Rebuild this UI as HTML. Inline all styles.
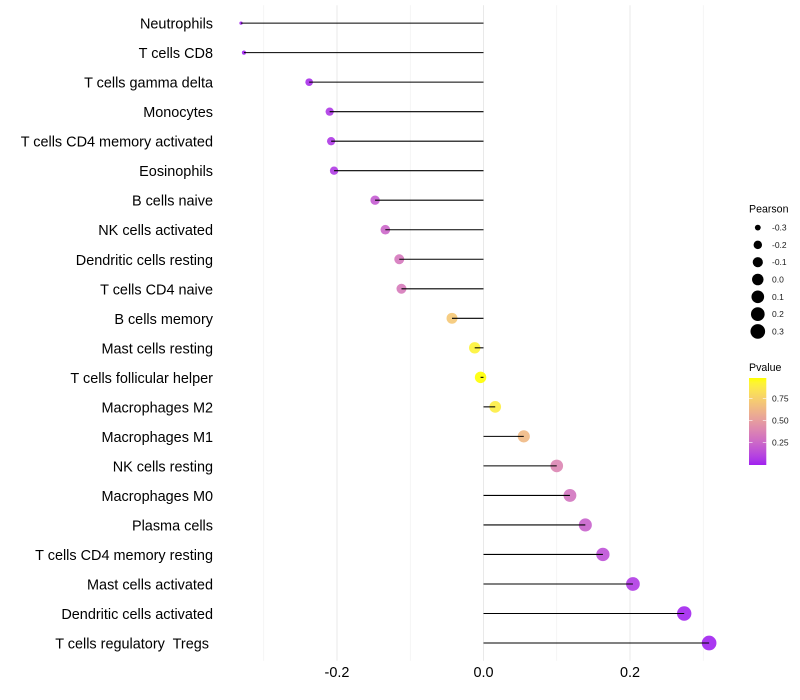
<!DOCTYPE html>
<html lang="en">
<head>
<meta charset="utf-8">
<title>Immune cell correlation lollipop chart</title>
<style>
html,body{margin:0;padding:0;background:#fff;width:800px;height:700px;overflow:hidden}
svg{display:block;font-family:"Liberation Sans",sans-serif}
text{white-space:pre}
</style>
</head>
<body>
<svg id="chart" xmlns="http://www.w3.org/2000/svg" width="800" height="700" viewBox="0 0 800 700"></svg>
<script>
const categories = ["Neutrophils","T cells CD8","T cells gamma delta","Monocytes","T cells CD4 memory activated","Eosinophils","B cells naive","NK cells activated","Dendritic cells resting","T cells CD4 naive","B cells memory","Mast cells resting","T cells follicular helper","Macrophages M2","Macrophages M1","NK cells resting","Macrophages M0","Plasma cells","T cells CD4 memory resting","Mast cells activated","Dendritic cells activated","T cells regulatory  Tregs "];
const pearson = [-0.331,-0.327,-0.238,-0.210,-0.208,-0.204,-0.148,-0.134,-0.115,-0.112,-0.043,-0.012,-0.004,0.016,0.055,0.100,0.118,0.139,0.163,0.204,0.274,0.308];
const pvalue = [0.003,0.004,0.04,0.07,0.072,0.08,0.20,0.25,0.33,0.34,0.71,0.92,0.98,0.89,0.64,0.39,0.31,0.23,0.16,0.08,0.017,0.007];
const xTickValues = [-0.2,0,0.2];
const xTickLabels = ["-0.2","0.0","0.2"];
const xMinorValues = [-0.3,-0.1,0.1,0.3];
const pearsonBreaks = [-0.3,-0.2,-0.1,0,0.1,0.2,0.3];
const pearsonBreakLabels = ["-0.3","-0.2","-0.1","0.0","0.1","0.2","0.3"];
const pvalueBreaks = [0.25,0.5,0.75];
const pvalueBreakLabels = ["0.25","0.50","0.75"];

const svg = document.getElementById('chart');
const NS = 'http://www.w3.org/2000/svg';
function make(tag, attrs, parent, txt) {
  const el = document.createElementNS(NS, tag);
  for (const k in attrs) el.setAttribute(k, attrs[k]);
  if (txt !== undefined) el.textContent = txt;
  (parent || svg).appendChild(el);
  return el;
}

/* axis functions */
const panelTop = 5.3, panelBottom = 660.7;
const x = v => 483.5 + v * 732.5;
const y = i => 23.1 + i * 29.52;
const minP = Math.min(...pearson), maxP = Math.max(...pearson);
const sizeScale = v => {
  const t = Math.max(0, Math.min(1, (v - minP) / (maxP - minP)));
  return 3.3 + 11.4 * Math.sqrt(t);
};

/* colour scale: Lab interpolation purple -> yellow */
function srgbToLab(c) {
  const l = c.map(u => { u /= 255; return u <= 0.04045 ? u / 12.92 : Math.pow((u + 0.055) / 1.055, 2.4); });
  const X = (0.4124 * l[0] + 0.3576 * l[1] + 0.1805 * l[2]) / 0.95047;
  const Y = 0.2126 * l[0] + 0.7152 * l[1] + 0.0722 * l[2];
  const Z = (0.0193 * l[0] + 0.1192 * l[1] + 0.9505 * l[2]) / 1.08883;
  const f = t => t > 0.008856 ? Math.cbrt(t) : 7.787 * t + 16 / 116;
  return [116 * f(Y) - 16, 500 * (f(X) - f(Y)), 200 * (f(Y) - f(Z))];
}
function labToCss(L) {
  const fy = (L[0] + 16) / 116, fx = fy + L[1] / 500, fz = fy - L[2] / 200;
  const g = t => t * t * t > 0.008856 ? t * t * t : (t - 16 / 116) / 7.787;
  const X = g(fx) * 0.95047, Y = g(fy), Z = g(fz) * 1.08883;
  const lin = [3.2406 * X - 1.5372 * Y - 0.4986 * Z, -0.9689 * X + 1.8758 * Y + 0.0415 * Z, 0.0557 * X - 0.2040 * Y + 1.0570 * Z];
  const out = lin.map(u => {
    u = Math.max(0, Math.min(1, u));
    return Math.round(255 * (u <= 0.0031308 ? 12.92 * u : 1.055 * Math.pow(u, 1 / 2.4) - 0.055));
  });
  return 'rgb(' + out.join(',') + ')';
}
const labLow = srgbToLab([160, 32, 240]), labHigh = srgbToLab([255, 255, 0]);
const minPv = Math.min(...pvalue), maxPv = Math.max(...pvalue);
const colorAt = t => labToCss(labLow.map((a, i) => a + (labHigh[i] - a) * t));
const colorOf = p => colorAt((p - minPv) / (maxPv - minPv));

/* gridlines */
xMinorValues.forEach(v => {
  const line = make('line', {x1: x(v), x2: x(v), y1: panelTop, y2: panelBottom, stroke: '#f0f0f0', 'stroke-width': 0.7});
  
  
});
xTickValues.forEach(v => {
  const line = make('line', {x1: x(v), x2: x(v), y1: panelTop, y2: panelBottom, stroke: '#e9e9e9', 'stroke-width': 1});
  
  
});

/* points, below the stems */
categories.forEach((c, i) => {
  const dot = make('circle', {cx: x(pearson[i]), cy: y(i), r: sizeScale(pearson[i]) / 2, fill: colorOf(pvalue[i]), 'fill-opacity': 0.9});
  
  
});
/* stems */
categories.forEach((c, i) => {
  const stem = make('line', {x1: x(0), x2: x(pearson[i]), y1: y(i), y2: y(i), stroke: '#000', 'stroke-width': 1.07});
  
  
});

/* category labels */
categories.forEach((c, i) => {
  const label = make('text', {x: 213, y: y(i) + 5.5, 'text-anchor': 'end', 'font-size': 14.45, fill: '#000'}, svg, c);
  
  
});

/* x tick labels */
xTickValues.forEach((v, i) => {
  const label = make('text', {x: x(v), y: 677, 'text-anchor': 'middle', 'font-size': 14.45, fill: '#000'}, svg, xTickLabels[i]);
  
  
});

/* size legend */
const sizeTitle = make('text', {x: 749, y: 212.5, 'font-size': 10.6, fill: '#000'}, svg, 'Pearson');


pearsonBreaks.forEach((v, i) => {
  const ky = 227.6 + i * 17.3;
  const key = make('circle', {cx: 757.8, cy: ky, r: sizeScale(v) / 2, fill: '#000'});
  
  
  const label = make('text', {x: 772, y: ky + 3, 'font-size': 8.5, fill: '#1a1a1a'}, svg, pearsonBreakLabels[i]);
  
  
});

/* colour legend */
const pvTitle = make('text', {x: 749, y: 371, 'font-size': 10.6, fill: '#000'}, svg, 'Pvalue');


const defs = make('defs', {});
const grad = make('linearGradient', {id: 'pvGradient', x1: 0, y1: 1, x2: 0, y2: 0}, defs);
for (let s = 0; s <= 20; s++) {
  make('stop', {offset: s / 20, 'stop-color': colorAt(s / 20)}, grad);
}
const bar = make('rect', {x: 749, y: 378, width: 17.3, height: 87, fill: 'url(#pvGradient)'});


const barY = p => 464.3 - p * 88;
pvalueBreaks.forEach((p, i) => {
  const t1 = make('line', {x1: 749, x2: 752.5, y1: barY(p), y2: barY(p), stroke: '#fff', 'stroke-width': 0.6});
  
  
  const t2 = make('line', {x1: 762.8, x2: 766.3, y1: barY(p), y2: barY(p), stroke: '#fff', 'stroke-width': 0.6});
  
  
  const label = make('text', {x: 772, y: barY(p) + 3, 'font-size': 8.5, fill: '#1a1a1a'}, svg, pvalueBreakLabels[i]);
  
  
});
</script>
</body>
</html>
